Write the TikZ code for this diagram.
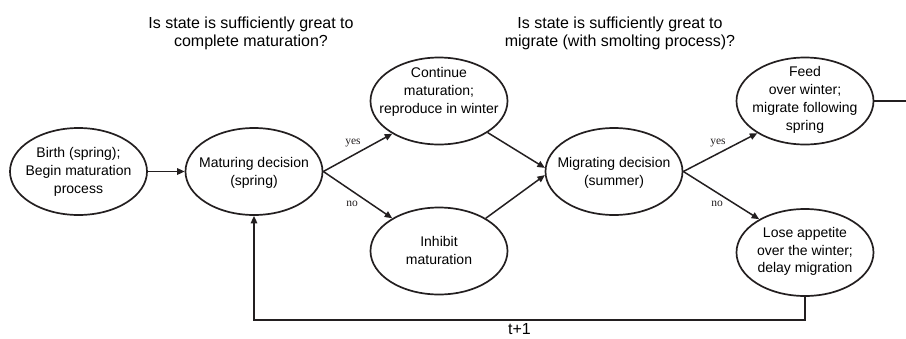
\documentclass[tikz,border=0pt]{standalone}
\usepackage{fontspec}
\setmainfont{Liberation Sans}
\newfontfamily\labelserif{Liberation Serif}
\usetikzlibrary{shapes.geometric,arrows.meta}
\definecolor{ink}{HTML}{231F20}
\begin{document}
\begin{tikzpicture}[x=1pt,y=1pt,
  stage/.style={ellipse,draw=ink,line width=1.7pt,minimum width=137pt,minimum height=87pt,inner sep=0pt},
  stagetext/.style={align=center,font=\fontsize{14}{17.8}\selectfont,inner sep=0pt},
  flow/.style={draw=ink,line width=1.5pt,-{Triangle[length=7.5pt,width=6.5pt]}},
  plainline/.style={draw=ink,line width=1.5pt},
  choice/.style={font=\labelserif\fontsize{11.5}{12}\selectfont,inner sep=0pt,text=ink},
  question/.style={align=center,font=\fontsize{16}{18.5}\selectfont,inner sep=0pt}]
\useasboundingbox (0,0) rectangle (906,-338);

% questions
\node[question] (q1) at (251,-33.5) {Is state is sufficiently great to\\complete maturation?};
\node[question] (q2) at (620,-33.5) {Is state is sufficiently great to\\migrate (with smolting process)?};

% ellipses
\node[stage] (birth) at (78.5,-171.5) {};
\node[stage] (mat) at (254,-171.5) {};
\node[stage] (cont) at (439,-101) {};
\node[stage] (inh) at (439,-251) {};
\node[stage] (mig) at (614,-171.5) {};
\node[stage] (feed) at (805,-101) {};
\node[stage] (lose) at (805,-252.5) {};

% texts
\node[stagetext] (tbirth) at (78.5,-172) {Birth (spring);\\Begin maturation\\process};
\node[stagetext] (tmat) at (254,-173) {Maturing decision\\(spring)};
\node[stagetext] (tcont) at (439,-92) {Continue\\maturation;\\reproduce in winter};
\node[stagetext] (tinh) at (439,-250.5) {Inhibit\\maturation};
\node[stagetext] (tmig) at (614,-173) {Migrating decision\\(summer)};
\node[stagetext] (tfeed) at (805,-100) {Feed\\over winter;\\migrate following\\spring};
\node[stagetext] (tlose) at (805,-251.5) {Lose appetite\\over the winter;\\delay migration};

% connectors
\draw[flow] (birth) -- (mat);
\draw[flow] (mat.east) -- (cont.215);
\draw[flow] (mat.east) -- (inh.145);
\draw[flow] (cont.327) -- (mig.177);
\draw[flow] (inh.35) -- (mig.183);
\draw[flow] (mig.east) -- (feed.214);
\draw[flow] (mig.east) -- (lose.144);
\coordinate (out) at (906,-101);
\draw[plainline] (feed.east) -- (out);
\draw[flow] (lose.south) -- ++(0,-23) -| (mat.south);

% labels
\node[choice] (y1) at (353,-143) {yes};
\node[choice] (n1) at (352,-204) {no};
\node[choice] (y2) at (718,-143) {yes};
\node[choice] (n2) at (717,-204) {no};
\node[font=\fontsize{16}{19}\selectfont,inner sep=0pt,anchor=base] (t1) at (519.5,-334) {t+1};
\end{tikzpicture}
\end{document}
